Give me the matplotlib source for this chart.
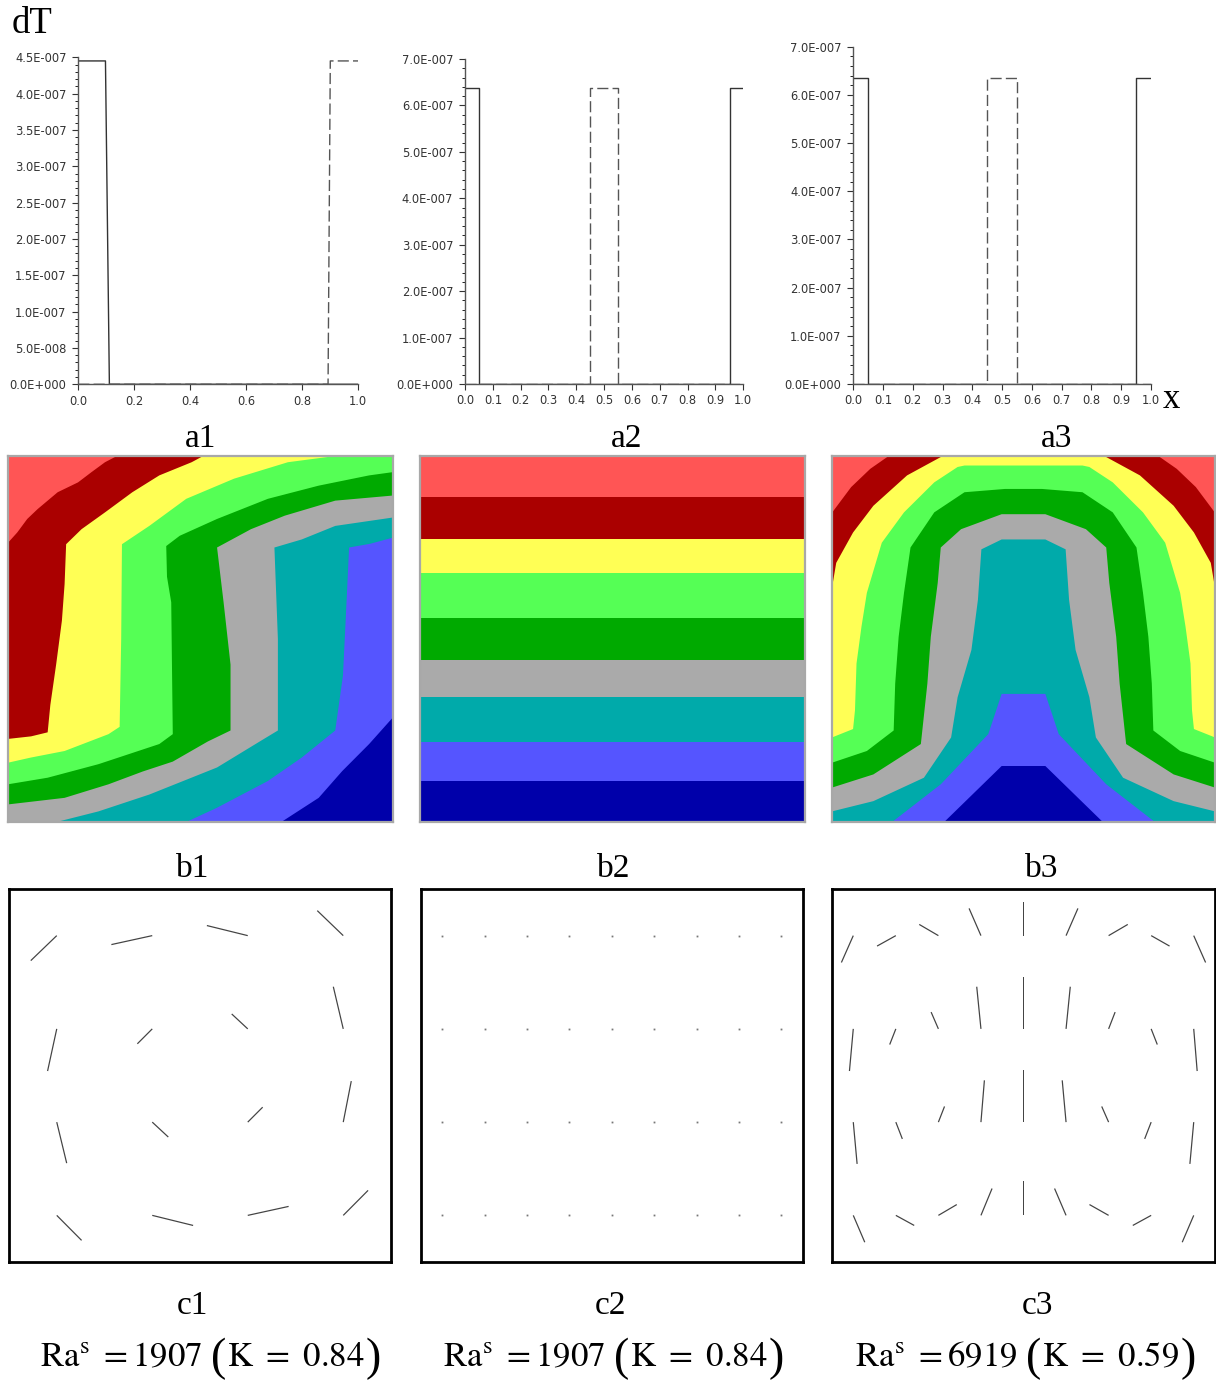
import matplotlib
matplotlib.use("Agg")
import matplotlib.pyplot as plt
from matplotlib.ticker import MultipleLocator, AutoMinorLocator, FuncFormatter
import numpy as np

plt.rcParams['mathtext.fontset'] = 'stix'
SERIF = 'Liberation Serif'
W, H = 1216, 1381

# ---------------- a1..a3 : dT profiles along x ----------------
a1_x_solid = [0.0, 0.097, 0.111, 1.0]
a1_y_solid = [4.45e-7, 4.45e-7, 0.0, 0.0]
a1_x_dash = [0.0, 0.892, 0.900, 1.0]
a1_y_dash = [0.0, 0.0, 4.45e-7, 4.45e-7]

a2_x_solid = [0.0, 0.049, 0.049, 0.951, 0.951, 1.0]
a2_y_solid = [6.37e-7, 6.37e-7, 0.0, 0.0, 6.37e-7, 6.37e-7]
a2_x_dash = [0.0, 0.448, 0.448, 0.551, 0.551, 1.0]
a2_y_dash = [0.0, 0.0, 6.37e-7, 6.37e-7, 0.0, 0.0]

a3_x_solid = [0.0, 0.050, 0.050, 0.950, 0.950, 1.0]
a3_y_solid = [6.35e-7, 6.35e-7, 0.0, 0.0, 6.35e-7, 6.35e-7]
a3_x_dash = [0.0, 0.448, 0.448, 0.551, 0.551, 1.0]
a3_y_dash = [0.0, 0.0, 6.35e-7, 6.35e-7, 0.0, 0.0]

# ---------------- b1..b3 : temperature bands ----------------
# band colours, hottest (0) to coldest (8)
band_colors = ['#FF5555', '#AA0000', '#FFFF55', '#55FF55', '#00AA00',
               '#AAAAAA', '#00AAAA', '#5555FF', '#0000AA']

# isotherms between band k-1 and band k, points (x, y) with y measured from the top
b1_isotherms = [
    [(0, .237), (.024, .209), (.050, .172), (.077, .145), (.129, .099), (.182, .072),
     (.217, .044), (.252, .017), (.283, 0)],
    [(0, .773), (.06, .766), (.103, .755), (.110, .680), (.125, .570), (.140, .450),
     (.147, .350), (.151, .241), (.191, .200), (.252, .154), (.323, .099), (.393, .053),
     (.477, .017), (.507, 0)],
    [(0, .838), (.059, .824), (.147, .806), (.261, .760), (.290, .740), (.294, .500),
     (.296, .241), (.367, .191), (.463, .117), (.587, .062), (.727, .017), (.850, 0)],
    [(0, .897), (.103, .879), (.235, .842), (.393, .787), (.428, .760), (.424, .400),
     (.413, .330), (.411, .246), (.446, .218), (.543, .172), (.675, .117), (.807, .081),
     (.938, .053), (1, .044)],
    [(0, .952), (.147, .934), (.261, .897), (.350, .862), (.428, .835), (.519, .780),
     (.578, .750), (.578, .570), (.560, .400), (.543, .250), (.631, .200), (.719, .163),
     (.850, .122), (1, .108)],
    [(.126, 1), (.235, .971), (.367, .925), (.543, .851), (.657, .778), (.701, .750),
     (.701, .500), (.692, .250), (.763, .228), (.850, .191), (1, .168)],
    [(.463, 1), (.543, .961), (.675, .888), (.763, .824), (.850, .750), (.870, .600),
     (.877, .450), (.886, .250), (.940, .240), (1, .223)],
    [(.710, 1), (.807, .934), (.868, .861), (.938, .787), (1, .714)],
]

b2_levels_y = [0.113, 0.226, 0.320, 0.444, 0.557, 0.657, 0.781, 0.887]

b3_isotherms = [
    [(0, .155), (.05, .085), (.10, .035), (.148, 0), (.852, 0), (.90, .035),
     (.95, .085), (1, .155)],
    [(0, .360), (.011, .292), (.055, .209), (.108, .136), (.196, .053), (.289, 0),
     (.711, 0), (.804, .053), (.892, .136), (.945, .209), (.989, .292), (1, .360)],
    [(0, .769), (.055, .746), (.060, .695), (.064, .567), (.077, .466), (.091, .374),
     (.130, .237), (.188, .154), (.267, .072), (.328, .030), (.346, .026), (.654, .026),
     (.672, .030), (.733, .072), (.812, .154), (.870, .237), (.909, .374), (.923, .466),
     (.936, .567), (.940, .695), (.945, .746), (1, .769)],
    [(0, .838), (.091, .806), (.161, .750), (.165, .622), (.174, .494), (.188, .374),
     (.205, .250), (.267, .154), (.346, .099), (.452, .090), (.548, .090), (.654, .099),
     (.733, .154), (.795, .250), (.812, .374), (.826, .494), (.835, .622), (.839, .750),
     (.909, .806), (1, .838)],
    [(0, .906), (.108, .870), (.232, .787), (.249, .622), (.258, .494), (.276, .347),
     (.284, .250), (.337, .200), (.443, .159), (.557, .159), (.663, .200), (.716, .250),
     (.724, .347), (.742, .494), (.751, .622), (.768, .787), (.892, .870), (1, .906)],
    [(0, .971), (.108, .943), (.240, .879), (.311, .769), (.328, .659), (.364, .530),
     (.381, .393), (.390, .255), (.443, .228), (.557, .228), (.610, .255), (.619, .393),
     (.636, .530), (.672, .659), (.689, .769), (.760, .879), (.892, .943), (1, .971)],
    [(.157, 1), (.284, .897), (.408, .760), (.443, .650), (.557, .650), (.592, .760),
     (.716, .897), (.843, 1)],
    [(.293, 1), (.443, .847), (.557, .847), (.707, 1)],
]

# ---------------- c1..c3 : velocity vectors (y measured from the top) ----------------
c_rows = [0.125, 0.375, 0.625, 0.875]
c1_cols = [0.125, 0.375, 0.625, 0.875]
c1_u = [[-0.068, -0.107, -0.107, -0.068],
        [-0.024, -0.039, -0.042, -0.026],
        [0.026, 0.042, 0.039, 0.021],
        [0.065, 0.107, 0.107, 0.065]]
c1_v = [[0.067, 0.024, -0.027, -0.067],
        [0.113, 0.040, -0.040, -0.113],
        [0.110, 0.040, -0.040, -0.110],
        [0.067, 0.027, -0.024, -0.067]]

c9_cols = [1/18, 3/18, 5/18, 7/18, 9/18, 11/18, 13/18, 15/18, 17/18]

c3_u = [[-0.031, -0.049, -0.050, -0.031, 0.0, 0.031, 0.050, 0.048, 0.031],
        [-0.010, -0.016, -0.019, -0.011, 0.0, 0.011, 0.017, 0.016, 0.009],
        [0.010, 0.017, 0.016, 0.009, 0.0, -0.010, -0.018, -0.017, -0.010],
        [0.030, 0.048, 0.048, 0.029, 0.0, -0.030, -0.050, -0.048, -0.030]]
c3_v = [[0.072, 0.028, -0.030, -0.073, -0.089, -0.073, -0.030, 0.028, 0.072],
        [0.113, 0.042, -0.045, -0.113, -0.139, -0.113, -0.045, 0.042, 0.113],
        [0.112, 0.045, -0.042, -0.112, -0.139, -0.112, -0.042, 0.045, 0.112],
        [0.072, 0.027, -0.029, -0.072, -0.091, -0.072, -0.029, 0.027, 0.072]]

panel_labels = ['a1', 'a2', 'a3', 'b1', 'b2', 'b3', 'c1', 'c2', 'c3']
ra_values = ['1907', '1907', '6919']
k_values = ['0.84', '0.84', '0.59']

fig = plt.figure(figsize=(W / 100, H / 100), dpi=100)


def px_axes(l, t, r, b):
    return fig.add_axes([l / W, 1 - b / H, (r - l) / W, (b - t) / H])


def sci_label(v, pos):
    mant, ex = f"{v:.1E}".split('E')
    return f"{mant}E{int(ex):+04d}"


def profile_axes(ax, xs, ys, xd, yd, ymax, ystep, xstep):
    ax.plot(xs, ys, color='#333333', lw=1.0)
    ax.plot(xd, yd, color='#555555', lw=1.0, dashes=(8, 3))
    ax.set_xlim(0, 1)
    ax.set_ylim(0, ymax)
    ax.patch.set_alpha(0)
    ax.spines[['top', 'right']].set_visible(False)
    for s in ('left', 'bottom'):
        ax.spines[s].set_color('#555555')
        ax.spines[s].set_linewidth(1.0)
    ax.xaxis.set_major_locator(MultipleLocator(xstep))
    ax.yaxis.set_major_locator(MultipleLocator(ystep))
    ax.yaxis.set_minor_locator(AutoMinorLocator(5))
    ax.yaxis.set_major_formatter(FuncFormatter(sci_label))
    ax.xaxis.set_major_formatter(FuncFormatter(lambda v, p: f"{v:.1f}"))
    ax.tick_params(axis='both', labelsize=8.3, colors='#333333', width=0.8)
    ax.tick_params(axis='x', length=4, pad=3.5)
    ax.tick_params(axis='y', which='major', length=4.5, pad=4)
    ax.tick_params(axis='y', which='minor', length=2.2, width=0.6)


def perim_pos(p):
    # clockwise position on the unit box edge (y measured down from the top)
    x, y = p
    if y <= 1e-6:
        return x
    if x >= 1 - 1e-6:
        return 1 + y
    if y >= 1 - 1e-6:
        return 3 - x
    return 4 - y


def region_below(curve):
    corners = [(0, 0), (1, 0), (1, 1), (0, 1)]
    t0, t1 = perim_pos(curve[0]), perim_pos(curve[-1])
    if t0 <= t1:
        t0 += 4
    pts = list(curve)
    for tc in range(1, 8):
        if t1 < tc < t0:
            pts.append(corners[tc % 4])
    return pts


def band_axes(ax, isotherms):
    ax.set_facecolor(band_colors[0])
    for k, curve in enumerate(isotherms, start=1):
        xs, ys = zip(*region_below(curve))
        ax.fill(xs, ys, color=band_colors[k], lw=0)
    ax.set_xlim(0, 1)
    ax.set_ylim(1, 0)
    ax.set_xticks([])
    ax.set_yticks([])
    for s in ax.spines.values():
        s.set_color('#A8A8A8')
        s.set_linewidth(1.6)


def vector_axes(ax, cols, u=None, v=None):
    X, Y = np.meshgrid(cols, c_rows)
    if u is None:
        ax.plot(X.ravel(), Y.ravel(), 's', ms=1.3, color='#777777', mew=0)
    else:
        ax.quiver(X, Y, np.array(u), np.array(v), angles='xy', scale_units='xy',
                  scale=1, pivot='tail', headwidth=0, headlength=0,
                  headaxislength=0, width=0.0032, color='#444444')
    ax.set_xlim(0, 1)
    ax.set_ylim(1, 0)
    ax.set_xticks([])
    ax.set_yticks([])
    for s in ax.spines.values():
        s.set_color('black')
        s.set_linewidth(2.0)


# row a
ax = px_axes(78.3, 57.3, 358.3, 384.3)
profile_axes(ax, a1_x_solid, a1_y_solid, a1_x_dash, a1_y_dash, 4.5e-7, 0.5e-7, 0.2)
ax = px_axes(465, 59, 743.3, 384)
profile_axes(ax, a2_x_solid, a2_y_solid, a2_x_dash, a2_y_dash, 7.0e-7, 1.0e-7, 0.1)
ax = px_axes(853.3, 46.7, 1151, 384)
profile_axes(ax, a3_x_solid, a3_y_solid, a3_x_dash, a3_y_dash, 7.0e-7, 1.0e-7, 0.1)

# row b
band_axes(px_axes(8, 456, 393, 822), b1_isotherms)
band_axes(px_axes(420.3, 455.7, 804.7, 822.3), [[(0, y), (1, y)] for y in b2_levels_y])
band_axes(px_axes(832, 456, 1215, 822), b3_isotherms)

# row c
vector_axes(px_axes(9, 889, 391, 1262), c1_cols, c1_u, c1_v)
vector_axes(px_axes(421, 889, 802.7, 1262), c9_cols)
vector_axes(px_axes(832, 889, 1215, 1262), c9_cols, c3_u, c3_v)

# texts on a transparent full-figure layer
tax = fig.add_axes([0, 0, 1, 1])
tax.set_axis_off()
tax.set_xlim(0, W)
tax.set_ylim(H, 0)

tax.text(12, 33, 'dT', fontsize=26.5, family=SERIF, va='baseline', ha='left')
tax.text(1163, 408, 'x', fontsize=25, family=SERIF, va='baseline', ha='left')

label_pos = [(201, 447), (627, 447), (1057, 447),
             (193, 877), (614, 877), (1042, 877),
             (192, 1314), (611, 1314), (1037, 1314)]
for lab, (px, py) in zip(panel_labels, label_pos):
    tax.text(px, py, lab, fontsize=24, family=SERIF, ha='center', va='baseline')

BASE = 1366
for ra, kv, x0 in zip(ra_values, k_values, [40, 443, 855]):
    t = tax.text(x0, BASE, r'$\mathrm{Ra}^{\mathrm{s}}\ =' + ra + '$',
                 fontsize=25, ha='left', va='baseline')
    t = tax.annotate('(', xy=(1, BASE + 4), xycoords=(t, 'data'), xytext=(6, 0),
                     textcoords='offset points', fontsize=33, family=SERIF,
                     ha='left', va='baseline')
    t = tax.annotate(r'$\mathrm{K}\ =\ ' + kv + '$', xy=(1, BASE), xycoords=(t, 'data'),
                     xytext=(1, 0), textcoords='offset points', fontsize=25,
                     ha='left', va='baseline')
    tax.annotate(')', xy=(1, BASE + 4), xycoords=(t, 'data'), xytext=(1, 0),
                 textcoords='offset points', fontsize=33, family=SERIF,
                 ha='left', va='baseline')

fig.savefig('out.png', dpi=100)
